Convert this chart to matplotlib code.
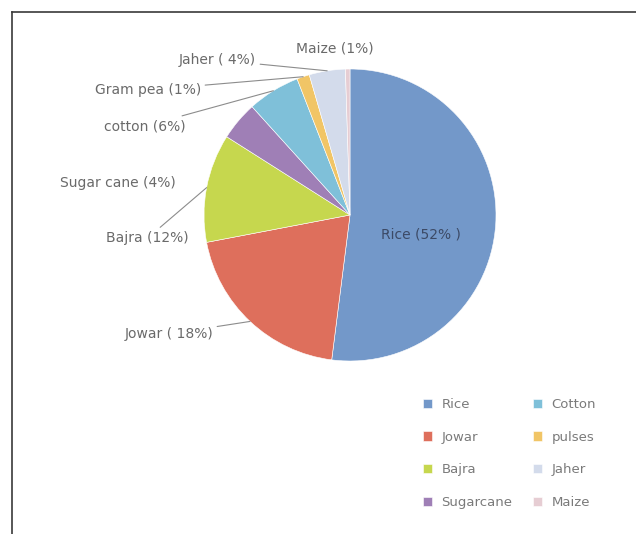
import matplotlib
matplotlib.use("Agg")
import matplotlib.pyplot as plt
from matplotlib.lines import Line2D
import numpy as np

# crop shares (%), in pie order, clockwise from 12 o'clock
crops = ["Rice", "Jowar", "Bajra", "Sugarcane", "Cotton", "pulses", "Jaher", "Maize"]
shares = [52, 20, 12, 4.3, 5.8, 1.4, 4.0, 0.5]
slice_labels = ["Rice (52% )", "Jowar ( 18%)", "Bajra (12%)", "Sugar cane (4%)",
                "cotton (6%)", "Gram pea (1%)", "Jaher ( 4%)", "Maize (1%)"]
colors = ["#7398c9", "#de6f5c", "#c6d74e", "#9f7fb6",
          "#7fc0d9", "#f1c566", "#d3dbeb", "#e6cdd3"]

W, H = 636, 534
fig = plt.figure(figsize=(W / 100, H / 100), dpi=100)

# chart area border (only top and left are visible in the crop)
fig.add_artist(Line2D([12 / W, 12 / W], [0, 1 - 12 / H], color="#3a3a3a", lw=1.2))
fig.add_artist(Line2D([12 / W, 1], [1 - 12 / H, 1 - 12 / H], color="#3a3a3a", lw=1.2))

cx, cy, r = 350, 215, 146
ax = fig.add_axes([(cx - r) / W, (H - cy - r) / H, 2 * r / W, 2 * r / H])
wedges, _ = ax.pie(shares, colors=colors, startangle=90, counterclock=False,
                   radius=1.0, wedgeprops=dict(edgecolor="white", linewidth=0.4))
ax.set_xlim(-1, 1)
ax.set_ylim(-1, 1)
ax.set_aspect("equal")
ax.axis("off")


def px(x, y):
    return (x - cx) / r, (cy - y) / r


def edge(w):
    a = np.deg2rad((w.theta1 + w.theta2) / 2)
    return np.cos(a), np.sin(a)


txt = dict(fontsize=10, color="#6a6a6a", annotation_clip=False)
line = dict(arrowstyle="-", color="#8c8c8c", lw=0.8, shrinkA=1, shrinkB=0)

# Rice label inside the slice
ax.text(*px(421, 235), slice_labels[0], ha="center", va="center", fontsize=10, color="#3c4a66")

ax.annotate(slice_labels[1], xy=edge(wedges[1]), xytext=px(213, 334), ha="right", va="center",
            arrowprops=line, **txt)
ax.annotate(slice_labels[2], xy=edge(wedges[2]), xytext=px(189, 238), ha="right", va="center",
            arrowprops=line, **txt)
ax.annotate(slice_labels[3], xy=edge(wedges[3]), xytext=px(176, 183), ha="right", va="center", **txt)
ax.annotate(slice_labels[4], xy=edge(wedges[4]), xytext=px(186, 126), ha="right", va="center",
            arrowprops=line, **txt)
ax.annotate(slice_labels[5], xy=edge(wedges[5]), xytext=px(201, 90), ha="right", va="center",
            arrowprops=line, **txt)
ax.annotate(slice_labels[6], xy=edge(wedges[6]), xytext=px(256, 60), ha="right", va="center",
            arrowprops=line, **txt)
ax.annotate(slice_labels[7], xy=edge(wedges[7]), xytext=px(335, 48), ha="center", va="center", **txt)

leg = fig.legend(wedges, crops, ncol=2, frameon=False, loc="upper left",
                 bbox_to_anchor=(411 / W, 1 - 386 / H), fontsize=9.5,
                 handlelength=0.7, handleheight=0.7, handletextpad=0.7,
                 labelspacing=1.5, columnspacing=1.55)
for t in leg.get_texts():
    t.set_color("#7a7a7a")

fig.savefig("out.png", dpi=100, facecolor="white")
